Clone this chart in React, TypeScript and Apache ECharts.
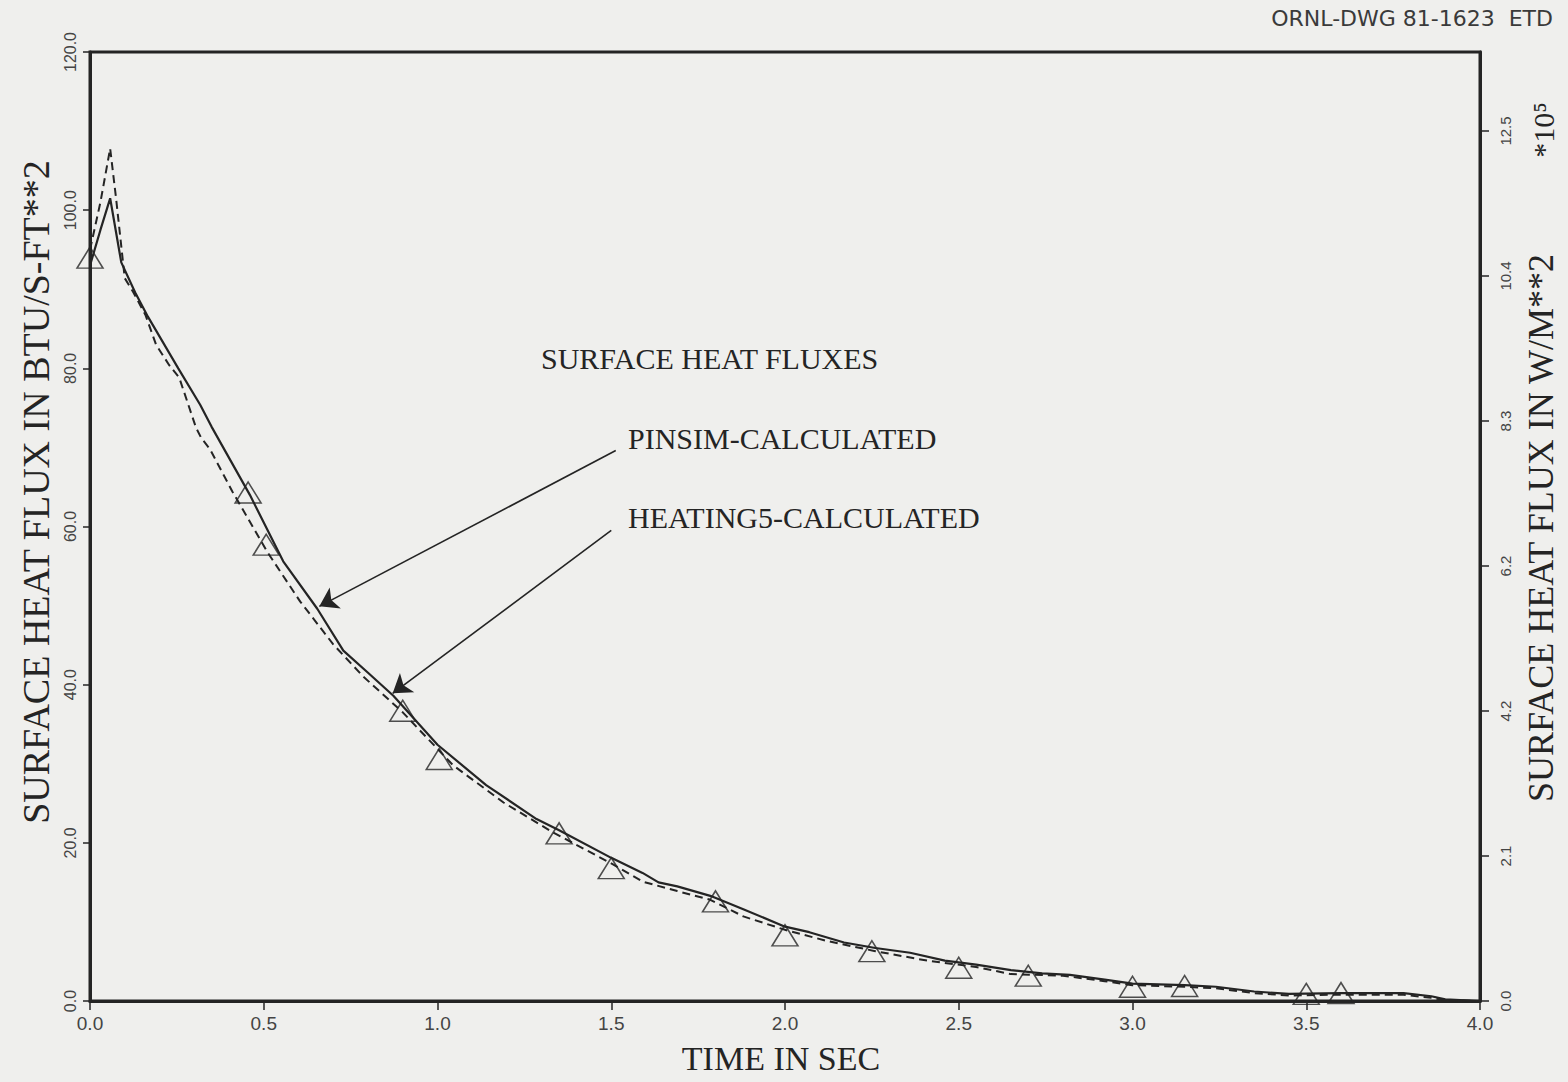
import React, { useEffect, useRef } from "react";
import * as echarts from "echarts";

// ---- Data ----
const pinsimTime = [0, 0.03, 0.058, 0.09, 0.13, 0.167, 0.254, 0.317, 0.35, 0.46, 0.556, 0.654, 0.729, 0.8, 0.873, 1.0, 1.14, 1.285, 1.35, 1.5, 1.59, 1.636, 1.69, 1.785, 1.88, 2.0, 2.07, 2.17, 2.26, 2.36, 2.46, 2.55, 2.65, 2.74, 2.82, 2.92, 3.0, 3.15, 3.24, 3.35, 3.45, 3.6, 3.78, 3.86, 3.9, 4.0];
const pinsimFlux = [93, 97.5, 101.5, 93.4, 89.6, 86.5, 80, 75.4, 72.6, 64, 55.6, 49.6, 44.3, 41.5, 38.6, 32.4, 27.3, 23, 21.6, 18.1, 16.2, 15, 14.5, 13.3, 11.6, 9.4, 8.7, 7.4, 6.7, 6.1, 5.1, 4.6, 3.9, 3.5, 3.3, 2.7, 2.2, 2.0, 1.8, 1.2, 0.9, 1.0, 1.0, 0.6, 0.2, 0];

const heatingTime = [0, 0.03, 0.058, 0.075, 0.1, 0.125, 0.16, 0.19, 0.228, 0.257, 0.305, 0.32, 0.345, 0.41, 0.51, 0.605, 0.7, 0.787, 0.9, 1.045, 1.19, 1.333, 1.5, 1.59, 1.69, 1.785, 1.88, 2.0, 2.12, 2.26, 2.41, 2.55, 2.65, 2.8, 2.92, 3.0, 3.15, 3.24, 3.35, 3.45, 3.6, 3.78, 3.86, 3.9, 4.0];
const heatingFlux = [95, 101, 107.8, 101.5, 91.4, 89.6, 86.7, 83, 80.4, 78.8, 72.5, 71.2, 69.8, 64.4, 56.8, 50.5, 45.1, 41, 36.5, 29.8, 25.1, 21.3, 17.4, 15.1, 13.9, 12.8, 10.7, 9.0, 7.6, 6.3, 5.1, 4.3, 3.4, 3.2, 2.5, 2.0, 1.8, 1.6, 1.0, 0.7, 0.8, 0.8, 0.4, 0.1, 0];

const measuredTime = [0, 0.455, 0.507, 0.9, 1.005, 1.35, 1.5, 1.8, 2.0, 2.25, 2.5, 2.7, 3.0, 3.15, 3.5, 3.6];
const measuredFlux = [94, 64.3, 57.7, 36.7, 30.6, 21.2, 16.8, 12.6, 8.3, 6.3, 4.2, 3.2, 1.8, 1.9, 0.9, 1.0];

// arrows: [fromTime, fromFlux, toTime, toFlux]
const pinsimArrow = [1.513, 69.6, 0.66, 49.9];
const heatingArrow = [1.5, 59.5, 0.871, 38.9];

const xTicks = { min: 0, max: 4, interval: 0.5 };
const yLeftTicks = { min: 0, max: 120, interval: 20 };
const yRightTicks = { min: 0, max: 13.63, interval: 2.0825 };

const INK = "#242424";
const BG = "#efefed";
const SERIF = "'Liberation Serif', 'DejaVu Serif', serif";
const SANS = "'Liberation Sans', 'DejaVu Sans', sans-serif";

export default function App() {
  const ref = useRef<HTMLDivElement>(null);

  useEffect(() => {
    document.body.style.margin = "0";
    document.body.style.background = BG;
    if (!ref.current) return;
    const chart = echarts.init(ref.current, undefined, { renderer: "svg" });
    const zip = (a: number[], b: number[]) => a.map((v, i) => [v, b[i]]);
    const option: any = {
      animation: false,
      backgroundColor: BG,
      grid: {
        left: 90,
        top: 52,
        width: 1390,
        height: 949,
        show: true,
        borderColor: INK,
        borderWidth: 3,
        backgroundColor: "transparent",
      },
      xAxis: {
        type: "value",
        min: xTicks.min,
        max: xTicks.max,
        interval: xTicks.interval,
        splitLine: { show: false },
        axisLine: { lineStyle: { color: INK, width: 3 } },
        axisTick: { length: 9, lineStyle: { color: INK, width: 1.5 } },
        axisLabel: {
          margin: 13,
          color: "#444",
          fontFamily: SANS,
          fontSize: 19,
          formatter: (v: number) => v.toFixed(1),
        },
      },
      yAxis: [
        {
          type: "value",
          position: "left",
          min: yLeftTicks.min,
          max: yLeftTicks.max,
          interval: yLeftTicks.interval,
          splitLine: { show: false },
          axisLine: { show: true, lineStyle: { color: INK, width: 3 } },
          axisTick: { show: true, length: 7, lineStyle: { color: INK, width: 1.5 } },
          axisLabel: {
            rotate: 90,
            margin: 12,
            color: "#444",
            fontFamily: SANS,
            fontSize: 16,
            formatter: (v: number) => v.toFixed(1),
          },
        },
        {
          type: "value",
          position: "right",
          min: yRightTicks.min,
          max: yRightTicks.max,
          interval: yRightTicks.interval,
          splitLine: { show: false },
          axisLine: { show: true, lineStyle: { color: INK, width: 3 } },
          axisTick: { show: true, length: 9, lineStyle: { color: INK, width: 1.5 } },
          axisLabel: {
            rotate: 90,
            margin: 18,
            showMaxLabel: false,
            color: "#444",
            fontFamily: SANS,
            fontSize: 15,
            formatter: (v: number) => v.toFixed(1),
          },
        },
      ],
      series: [
        {
          name: "PINSIM-CALCULATED",
          type: "line",
          data: zip(pinsimTime, pinsimFlux),
          showSymbol: false,
          lineStyle: { color: INK, width: 2.2 },
          z: 3,
        },
        {
          name: "HEATING5-CALCULATED",
          type: "line",
          data: zip(heatingTime, heatingFlux),
          showSymbol: false,
          lineStyle: { color: INK, width: 2, type: [8, 5] },
          z: 3,
        },
        {
          name: "MEASURED",
          type: "scatter",
          data: zip(measuredTime, measuredFlux),
          symbol: "triangle",
          symbolSize: [26, 21],
          clip: false,
          itemStyle: { color: "rgba(0,0,0,0)", borderColor: INK, borderWidth: 1.5 },
          z: 4,
        },
        {
          type: "lines",
          coordinateSystem: "cartesian2d",
          symbol: ["none", "arrow"],
          symbolSize: [12, 18],
          lineStyle: { color: INK, width: 1.6, opacity: 1 },
          data: [
            { coords: [[pinsimArrow[0], pinsimArrow[1]], [pinsimArrow[2], pinsimArrow[3]]] },
            { coords: [[heatingArrow[0], heatingArrow[1]], [heatingArrow[2], heatingArrow[3]]] },
          ],
          z: 5,
        },
      ],
      graphic: [
        {
          type: "text",
          x: 1553,
          y: 18,
          style: { text: "ORNL-DWG 81-1623  ETD", font: `22px 'DejaVu Sans', sans-serif`, fill: "#3a3a3a", align: "right", verticalAlign: "middle" },
        },
        {
          type: "text",
          x: 541,
          y: 358,
          style: { text: "SURFACE HEAT FLUXES", font: `30px ${SERIF}`, fill: INK, verticalAlign: "middle" },
        },
        {
          type: "text",
          x: 628,
          y: 438,
          style: { text: "PINSIM-CALCULATED", font: `30px ${SERIF}`, fill: INK, verticalAlign: "middle" },
        },
        {
          type: "text",
          x: 628,
          y: 517,
          style: { text: "HEATING5-CALCULATED", font: `30px ${SERIF}`, fill: INK, verticalAlign: "middle" },
        },
        {
          type: "text",
          x: 781,
          y: 1058,
          style: { text: "TIME IN SEC", font: `34px ${SERIF}`, fill: INK, align: "center", verticalAlign: "middle" },
        },
        {
          type: "text",
          x: 36,
          y: 492,
          rotation: Math.PI / 2,
          style: { text: "SURFACE HEAT FLUX IN BTU/S-FT**2", font: `38px ${SERIF}`, fill: INK, align: "center", verticalAlign: "middle" },
        },
        {
          type: "text",
          x: 1541,
          y: 528,
          rotation: Math.PI / 2,
          style: { text: "SURFACE HEAT FLUX IN W/M**2", font: `36px ${SERIF}`, fill: INK, align: "center", verticalAlign: "middle" },
        },
        {
          type: "text",
          x: 1543,
          y: 130,
          rotation: Math.PI / 2,
          style: { text: "*10⁵", font: `30px ${SERIF}`, fill: INK, align: "center", verticalAlign: "middle" },
        },
      ],
    };
    chart.setOption(option);
    return () => chart.dispose();
  }, []);

  return <div ref={ref} style={{ width: 1568, height: 1082, background: BG }} />;
}
